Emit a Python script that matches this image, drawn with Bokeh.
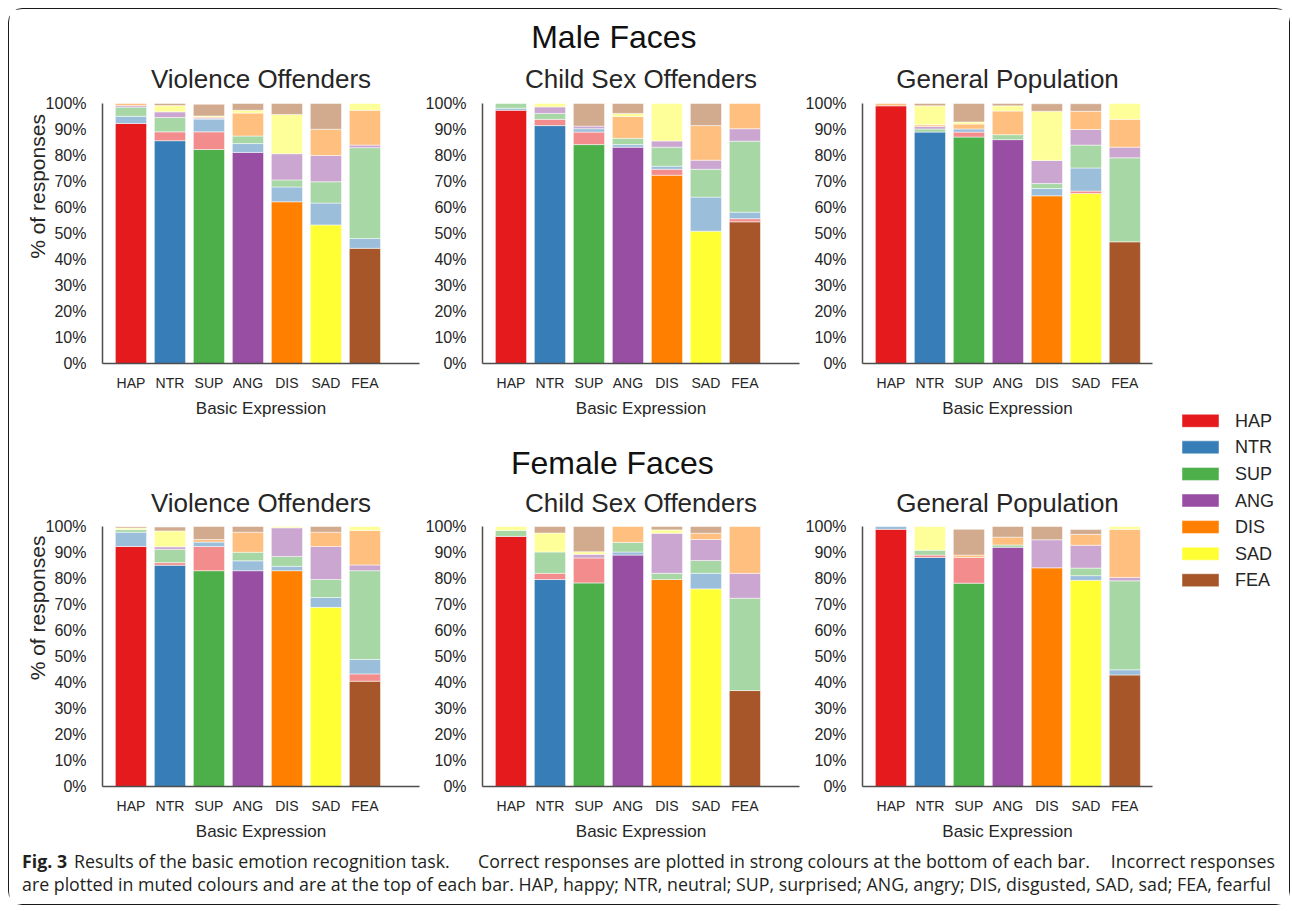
from bokeh.plotting import figure
from bokeh.models import ColumnDataSource, Range1d, FactorRange, FixedTicker, Label
from bokeh.layouts import row, column
from bokeh.embed import file_html
from bokeh.resources import INLINE
from bokeh.core.properties import value

# ---------------- data ----------------
EXPRESSIONS = ["HAP", "NTR", "SUP", "ANG", "DIS", "SAD", "FEA"]
STRONG = ["#e41a1c", "#377eb8", "#4daf4a", "#984ea3", "#ff7f00", "#ffff33", "#a65628"]
MUTED = ["#f28c8d", "#9bbedb", "#a6d7a4", "#cba6d1", "#ffbf7f", "#ffff99", "#d2aa8d"]
GROUP_TITLES = ["Violence Offenders", "Child Sex Offenders", "General Population"]
Y_TICKS = [0, 10, 20, 30, 40, 50, 60, 70, 80, 90, 100]

# rows: presented expression (HAP..FEA); columns: % responses HAP, NTR, SUP, ANG, DIS, SAD, FEA
MALE_VIOLENCE = [
    [92.3, 2.8, 3.5, 0.6, 0.8, 0.0, 0.0],
    [3.4, 85.7, 5.5, 2.2, 0.0, 2.4, 0.8],
    [6.8, 4.9, 82.3, 0.4, 0.4, 0.4, 4.5],
    [0.0, 3.4, 2.9, 81.2, 8.8, 1.1, 2.6],
    [0.0, 5.7, 2.7, 10.1, 62.2, 15.1, 4.2],
    [0.0, 8.4, 8.2, 10.1, 10.1, 53.3, 9.9],
    [0.0, 3.8, 34.9, 1.0, 13.4, 2.6, 44.3],
]
MALE_CHILD_SEX = [
    [97.4, 0.8, 1.8, 0.0, 0.0, 0.0, 0.0],
    [2.4, 91.5, 2.3, 2.5, 0.0, 1.3, 0.0],
    [4.8, 1.3, 84.2, 1.0, 0.0, 0.0, 8.7],
    [0.0, 1.0, 2.4, 83.2, 8.4, 1.2, 3.8],
    [2.3, 1.2, 7.3, 2.4, 72.4, 14.4, 0.0],
    [0.0, 13.1, 10.7, 3.5, 13.3, 50.9, 8.5],
    [1.2, 2.5, 27.3, 4.8, 9.7, 0.0, 54.5],
]
MALE_GENERAL = [
    [99.1, 0.0, 0.0, 0.0, 0.9, 0.0, 0.0],
    [0.0, 89.0, 1.2, 1.0, 0.6, 7.3, 0.9],
    [1.9, 1.2, 87.1, 0.0, 1.9, 0.8, 7.1],
    [0.0, 0.0, 1.9, 86.1, 9.1, 2.0, 0.9],
    [0.0, 2.8, 1.9, 8.9, 64.5, 18.9, 2.9],
    [0.9, 8.9, 8.8, 6.0, 7.0, 65.4, 2.9],
    [0.0, 0.0, 32.3, 4.1, 10.7, 6.1, 46.8],
]
FEMALE_VIOLENCE = [
    [92.3, 5.5, 1.0, 0.0, 0.0, 0.6, 0.5],
    [1.0, 85.1, 5.1, 1.0, 0.0, 6.1, 1.5],
    [9.3, 1.7, 83.0, 0.0, 1.0, 0.0, 5.0],
    [0.0, 3.8, 3.3, 83.0, 7.7, 0.0, 2.2],
    [0.0, 1.7, 3.8, 11.0, 83.0, 0.5, 0.0],
    [0.0, 3.8, 6.9, 12.7, 5.5, 68.9, 2.2],
    [2.8, 5.6, 34.1, 2.2, 13.3, 1.5, 40.5],
]
FEMALE_CHILD_SEX = [
    [96.2, 0.0, 2.3, 0.0, 0.0, 1.5, 0.0],
    [2.4, 79.6, 8.2, 0.0, 0.0, 7.3, 2.5],
    [9.6, 0.0, 78.3, 1.4, 0.0, 1.0, 9.7],
    [0.0, 1.2, 3.7, 89.0, 6.1, 0.0, 0.0],
    [0.0, 0.0, 2.4, 15.4, 79.6, 1.3, 1.3],
    [0.0, 6.0, 4.9, 8.1, 2.4, 76.0, 2.6],
    [0.0, 0.0, 35.5, 9.6, 18.0, 0.0, 36.9],
]
FEMALE_GENERAL = [
    [98.9, 1.1, 0.0, 0.0, 0.0, 0.0, 0.0],
    [0.9, 88.1, 1.9, 0.0, 0.0, 9.1, 0.0],
    [9.9, 0.0, 78.2, 0.0, 0.9, 0.0, 9.9],
    [0.0, 0.0, 0.9, 92.0, 3.0, 0.0, 4.1],
    [0.0, 0.0, 0.0, 10.8, 84.1, 0.0, 5.1],
    [0.0, 1.8, 2.9, 8.8, 4.2, 79.3, 1.8],
    [0.0, 2.0, 34.2, 1.3, 18.5, 1.1, 42.9],
]

CAPTION_BOLD = "Fig. 3"
CAPTION_LINE1 = [
    "Results of the basic emotion recognition task.",
    "Correct responses are plotted in strong colours at the bottom of each bar.",
    "Incorrect responses",
]
CAPTION_LINE2 = ("are plotted in muted colours and are at the top of each bar. HAP, happy; NTR, neutral; "
                 "SUP, surprised; ANG, angry; DIS, disgusted, SAD, sad; FEA, fearful")

# ---------------- styling ----------------
FONT = "Liberation Sans"
TXT = "#262626"
AXIS = "#4d4d4d"
X_START = -0.73
PX_PER_PCT = 2.6


def segments(matrix):
    xs, bottoms, tops, colors = [], [], [], []
    for i, resp in enumerate(matrix):
        order = [i] + [j for j in range(len(resp)) if j != i]
        base = 0.0
        for j in order:
            v = resp[j]
            if v <= 0:
                continue
            xs.append(i)
            bottoms.append(base)
            tops.append(base + v)
            colors.append(STRONG[j] if j == i else MUTED[j])
            base += v
    return dict(x=xs, bottom=bottoms, top=tops, color=colors)


def panel(matrix, title, width, height, bl, br, bt, bb, x_end, title_y, ylabel="",
          header=None, header_x=0.0, header_y=120.0):
    # the frame extends above 100% (by bt pixels) so that titles sit inside it
    y_top = 100 + bt / PX_PER_PCT
    p = figure(width=width, height=height, x_range=Range1d(X_START, x_end),
               y_range=Range1d(0, y_top), output_backend="svg", toolbar_location=None,
               min_border_left=bl, min_border_right=br, min_border_top=0,
               min_border_bottom=bb)
    p.outline_line_color = None
    p.grid.visible = False
    p.background_fill_color = "white"
    p.border_fill_color = "white"

    src = ColumnDataSource(segments(matrix))
    p.vbar(x="x", bottom="bottom", top="top", width=0.8, fill_color="color",
           line_color="white", line_width=0.5, source=src)

    # x axis
    xa = p.xaxis[0]
    xa.ticker = FixedTicker(ticks=list(range(len(EXPRESSIONS))))
    xa.major_label_overrides = {i: n for i, n in enumerate(EXPRESSIONS)}
    xa.axis_label = "Basic Expression"
    xa.axis_label_text_font = FONT
    xa.axis_label_text_font_size = "17px"
    xa.axis_label_text_font_style = "normal"
    xa.axis_label_text_color = TXT
    xa.axis_label_standoff = 5
    xa.major_label_text_font = FONT
    xa.major_label_text_font_size = "14px"
    xa.major_label_text_color = TXT
    xa.major_label_standoff = 5
    xa.major_tick_line_color = None
    xa.minor_tick_line_color = None
    xa.axis_line_color = AXIS
    xa.axis_line_width = 1.5

    # y axis
    ya = p.yaxis[0]
    ya.bounds = (0, 100)
    ya.ticker = FixedTicker(ticks=Y_TICKS)
    ya.major_label_overrides = {t: f"{t}%" for t in Y_TICKS}
    ya.major_label_text_font = FONT
    ya.major_label_text_font_size = "16px"
    ya.major_label_text_color = TXT
    ya.major_label_standoff = 10
    ya.major_tick_line_color = None
    ya.minor_tick_line_color = None
    ya.axis_line_color = AXIS
    ya.axis_line_width = 1.5
    if ylabel:
        ya.axis_label = ylabel
        ya.axis_label_text_font = FONT
        ya.axis_label_text_font_size = "21px"
        ya.axis_label_text_font_style = "normal"
        ya.axis_label_text_color = TXT
        ya.axis_label_standoff = -6

    p.add_layout(Label(x=(X_START + x_end) / 2, y=title_y, text=title, text_align="center",
                       text_baseline="alphabetic", text_font=FONT,
                       text_font_size="26px", text_color=TXT))
    if header:
        p.add_layout(Label(x=header_x, y=header_y, text=header, text_align="center",
                           text_baseline="alphabetic", text_font=FONT,
                           text_font_size="32px", text_color="#111111"))
    return p


# geometry (pixels)
W1, W2, W3, WL = 413, 380, 360, 127
H_TOP, H_BOT = 420, 415
END_WIDE, END_NARROW = 7.4, 6.71
TY_TOP, TY_BOT = 109.3, 109.0

p1 = panel(MALE_VIOLENCE, GROUP_TITLES[0], W1, H_TOP, 93, 3, 94, 66, END_WIDE, TY_TOP,
           ylabel="% of responses")
p2 = panel(MALE_CHILD_SEX, GROUP_TITLES[1], W2, H_TOP, 60, 3, 94, 66, END_WIDE, TY_TOP,
           header="Male Faces", header_x=2.64, header_y=125.4)
p3 = panel(MALE_GENERAL, GROUP_TITLES[2], W3, H_TOP, 60, 10, 94, 66, END_NARROW, TY_TOP)
p4 = panel(FEMALE_VIOLENCE, GROUP_TITLES[0], W1, H_BOT, 93, 3, 97, 58, END_WIDE, TY_BOT,
           ylabel="% of responses")
p5 = panel(FEMALE_CHILD_SEX, GROUP_TITLES[1], W2, H_BOT, 60, 3, 97, 58, END_WIDE, TY_BOT,
           header="Female Faces", header_x=2.6, header_y=124.4)
p6 = panel(FEMALE_GENERAL, GROUP_TITLES[2], W3, H_BOT, 60, 10, 97, 58, END_NARROW, TY_BOT)

# legend figure (swatches drawn on a categorical axis, one band per expression)
LG_TOP, LG_BAND = 398, 186
lg = figure(width=WL, height=H_TOP + H_BOT, x_range=Range1d(0, WL),
            y_range=FactorRange(factors=list(reversed(EXPRESSIONS))),
            output_backend="svg", toolbar_location=None, x_axis_location=None,
            y_axis_location=None, min_border_left=0, min_border_top=LG_TOP,
            min_border_right=0, min_border_bottom=H_TOP + H_BOT - LG_TOP - LG_BAND)
lg.outline_line_color = None
lg.grid.visible = False
lg.rect(x=38, y=EXPRESSIONS, width=37, height=13, width_units="screen",
        height_units="screen", fill_color=STRONG, line_color="#ffffff", line_alpha=0.6,
        line_width=0.8)
lg.text(x=72.5, y=EXPRESSIONS, text=EXPRESSIONS, text_baseline="middle",
        text_align="left", text_font=value(FONT), text_font_size="18px", text_color=TXT)

# caption figure
CW, CH = 1280, 60
cap = figure(width=CW, height=CH, x_range=Range1d(0, CW), y_range=Range1d(0, CH),
             output_backend="svg", toolbar_location=None, x_axis_location=None,
             y_axis_location=None, min_border=0)
cap.outline_line_color = None
cap.grid.visible = False
CAP_FONT = "Open Sans"
CAP_SIZE = "17.8px"
CAP_COL = "#231f20"
cap.add_layout(Label(x=12.5, y=44, text=CAPTION_BOLD, text_font=CAP_FONT,
                     text_font_size=CAP_SIZE, text_font_style="bold", text_baseline="middle",
                     text_color=CAP_COL))
cap.add_layout(Label(x=64.5, y=44, text=CAPTION_LINE1[0], text_font=CAP_FONT,
                     text_font_size=CAP_SIZE, text_baseline="middle", text_color=CAP_COL))
cap.add_layout(Label(x=468.5, y=44, text=CAPTION_LINE1[1], text_font=CAP_FONT,
                     text_font_size=CAP_SIZE, text_baseline="middle", text_color=CAP_COL))
cap.add_layout(Label(x=1265.5, y=44, text=CAPTION_LINE1[2], text_font=CAP_FONT, text_align="right",
                     text_font_size=CAP_SIZE, text_baseline="middle", text_color=CAP_COL))
cap.add_layout(Label(x=12.5, y=21, text=CAPTION_LINE2, text_font=CAP_FONT,
                     text_font_size=CAP_SIZE, text_baseline="middle", text_color=CAP_COL))

grid = column(row(p1, p2, p3), row(p4, p5, p6))
layout = column(row(grid, lg), cap,
                styles={"border": "1.5px solid #1a1a1a", "border-radius": "14px",
                        "background-color": "white", "margin": "8px 0 0 8px"})

open("out.html", "w").write(file_html(layout, INLINE))
